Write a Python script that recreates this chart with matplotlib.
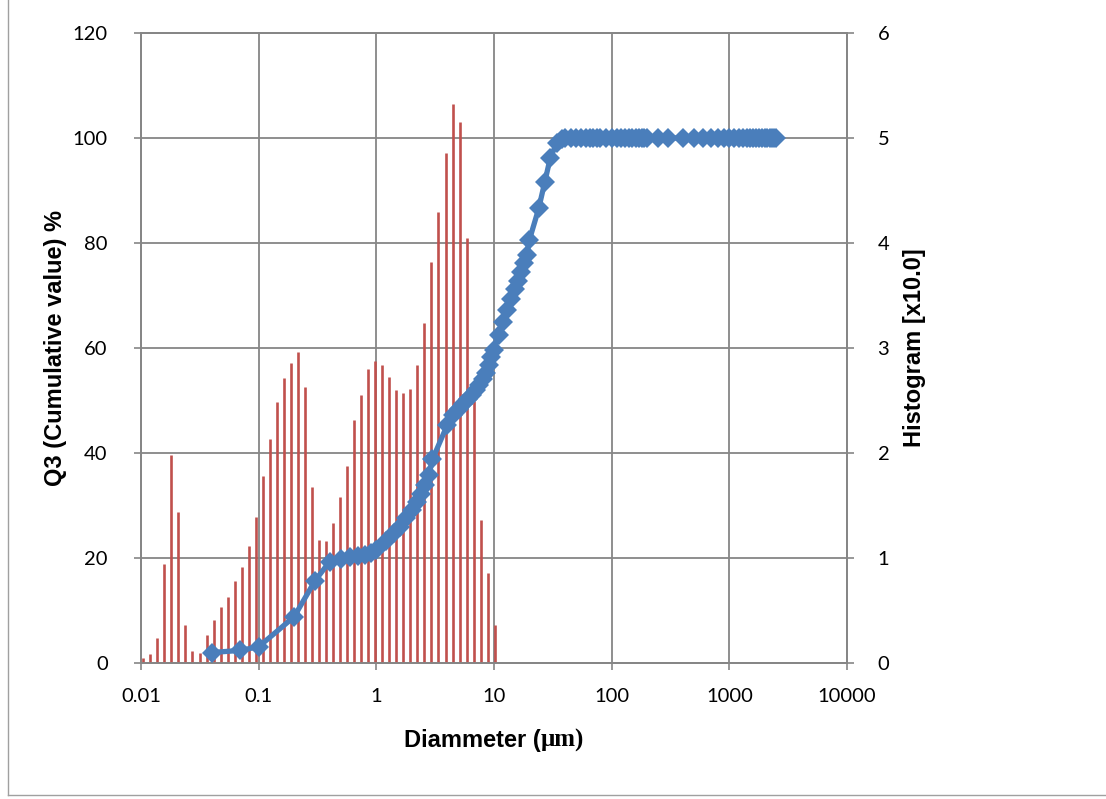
import matplotlib
matplotlib.use("Agg")
import matplotlib.pyplot as plt
from matplotlib.lines import Line2D
from matplotlib.ticker import NullLocator, FixedLocator, FixedFormatter

plt.rcParams['font.family'] = ['Lato', 'DejaVu Sans']

# frequency histogram: channel diameter (um) and amount per channel (right axis)
hist_diam = [0.01046, 0.01200, 0.01377, 0.01580, 0.01813, 0.02080, 0.02387, 0.02739,
             0.03143, 0.03606, 0.04138, 0.04748, 0.05448, 0.06252, 0.07173, 0.08231,
             0.09443, 0.1084, 0.1243, 0.1427, 0.1637, 0.1878, 0.2155, 0.2473, 0.2838,
             0.3256, 0.3736, 0.4287, 0.4919, 0.5645, 0.6476, 0.7431, 0.8527, 0.9784,
             1.123, 1.288, 1.478, 1.696, 1.946, 2.233, 2.562, 2.940, 3.374, 3.871,
             4.442, 5.097, 5.848, 6.711, 7.700, 8.836, 10.14]
hist_freq = [0.05, 0.09, 0.24, 0.94, 1.98, 1.44, 0.36, 0.11, 0.10, 0.27,
             0.41, 0.53, 0.63, 0.78, 0.91, 1.11, 1.39, 1.78, 2.13, 2.49,
             2.71, 2.86, 2.96, 2.63, 1.68, 1.17, 1.16, 1.33, 1.58, 1.88,
             2.31, 2.55, 2.80, 2.88, 2.84, 2.72, 2.60, 2.57, 2.61, 2.84,
             3.24, 3.82, 4.30, 4.86, 5.32, 5.15, 4.05, 2.50, 1.36, 0.86, 0.36]

# cumulative undersize Q3 (%)
q3_diam = [0.04, 0.07, 0.1, 0.2, 0.3, 0.4, 0.5, 0.6, 0.7, 0.8, 0.9, 1.0,
           1.2, 1.4, 1.6, 1.8, 2.0, 2.2, 2.4, 2.6, 2.8, 3.0, 4.0, 4.5, 5.0,
           5.5, 6.0, 6.5, 7.0, 7.5, 8.0, 8.5, 9.0, 9.5, 10, 11, 12, 13, 14,
           15, 16, 17, 18, 19, 20, 24, 27, 30, 34, 38, 40, 45, 50, 55, 60,
           65, 70, 75, 80, 90, 100, 110, 120, 130, 140, 150, 160, 170, 180,
           190, 200, 250, 300, 400, 500, 600, 700, 800, 900, 1000, 1100,
           1200, 1300, 1400, 1500, 1600, 1700, 1800, 1900, 2000, 2100, 2200,
           2300, 2400, 2500]
q3_value = [2.0, 2.4, 3.1, 8.8, 15.6, 19.3, 19.9, 20.2, 20.4, 20.6, 21.0, 21.5,
            23.3, 24.7, 25.9, 27.6, 29.1, 30.7, 32.2, 34.0, 35.8, 38.8, 45.3, 47.2, 48.3,
            49.3, 50.2, 51.1, 52.0, 52.9, 54.0, 55.3, 56.7, 58.2, 59.7, 62.5, 65.0, 67.2, 69.3,
            71.2, 72.8, 74.5, 76.2, 77.8, 80.6, 86.6, 91.6, 96.1, 99.0, 99.9, 100, 100, 100, 100, 100,
            100, 100, 100, 100, 100, 100, 100, 100, 100, 100, 100, 100, 100, 100,
            100, 100, 100, 100, 100, 100, 100, 100, 100, 100, 100, 100,
            100, 100, 100, 100, 100, 100, 100, 100, 100, 100, 100,
            100, 100, 100]

x_ticks = [0.01, 0.1, 1, 10, 100, 1000, 10000]
x_tick_labels = ["0.01", "0.1", "1", "10", "100", "1000", "10000"]
q3_ticks = [0, 20, 40, 60, 80, 100, 120]
hist_ticks = [0, 1, 2, 3, 4, 5, 6]

GRID = '#868686'
BAR = '#C0504D'
LINE = '#4A7EBB'
TICK_FS = 14.5
LABEL_FS = 17
BOLD_FONT = ['Liberation Sans', 'DejaVu Sans']

fig = plt.figure(figsize=(11.06, 7.99), dpi=100)
W, H = 1106, 799
ax_h = fig.add_axes([141 / W, 1 - 663 / H, 706 / W, 630 / H])

# histogram sits on the primary axes so the cumulative line is drawn above it
ax_h.set_xscale('log')
ax_h.set_xlim(0.01, 10000)
ax_h.set_ylim(0, 6)
ax_h.set_axisbelow(True)
ax_h.grid(True, which='major', color=GRID, linewidth=1.3)
ax_h.vlines(hist_diam, 0, hist_freq, colors=BAR, linewidth=1.9, zorder=3)

ax_h.xaxis.set_major_locator(FixedLocator(x_ticks))
ax_h.xaxis.set_major_formatter(FixedFormatter(x_tick_labels))
ax_h.xaxis.set_minor_locator(NullLocator())
ax_h.yaxis.set_major_locator(FixedLocator(hist_ticks))
ax_h.tick_params(axis='x', direction='out', length=5, color=GRID, width=1.2,
                 pad=13, labelsize=TICK_FS)

ax_q = ax_h.twinx()
ax_q.set_ylim(0, 120)
ax_q.yaxis.set_major_locator(FixedLocator(q3_ticks))
ax_q.yaxis.tick_left()
ax_q.yaxis.set_label_position('left')
ax_q.set_ylabel('Q3 (Cumulative value) %', fontsize=LABEL_FS, fontweight='bold',
                family=BOLD_FONT, labelpad=4)
ax_q.tick_params(axis='y', direction='out', length=5, color=GRID, width=1.2,
                 pad=19, labelsize=TICK_FS)
ax_q.plot(q3_diam, q3_value, color=LINE, linewidth=3.8, marker='D',
          markersize=10, markeredgewidth=0, clip_on=False, zorder=4)

# twinx moved the histogram ticks to the left; put them back on the right
ax_h.yaxis.tick_right()
ax_h.yaxis.set_label_position('right')
ax_h.set_ylabel('Histogram [x10.0]', fontsize=LABEL_FS, fontweight='bold',
                family=BOLD_FONT, labelpad=10)
ax_h.tick_params(axis='y', direction='out', length=5, color=GRID, width=1.2,
                 pad=17, labelsize=TICK_FS)

for ax in (ax_h, ax_q):
    for sp in ax.spines.values():
        sp.set_color(GRID)
        sp.set_linewidth(1.3)

# x label: sans text followed by a serif "(um)" part, centred under the axes
x_split = 541 / W
fig.text(x_split, 1 - 740 / H, 'Diammeter (', fontsize=LABEL_FS, fontweight='bold',
         family=BOLD_FONT, ha='right', va='center')
fig.text(x_split, 1 - 740 / H, 'μm)', fontsize=LABEL_FS + 1, fontweight='bold',
         family='Liberation Serif', ha='left', va='center')

# chart area border
fig.add_artist(Line2D([8 / W, 8 / W], [4 / H, 1], color='#A0A0A0', linewidth=1))
fig.add_artist(Line2D([8 / W, 1], [4 / H, 4 / H], color='#A0A0A0', linewidth=1))

fig.savefig('out.png', dpi=100, facecolor='white')
